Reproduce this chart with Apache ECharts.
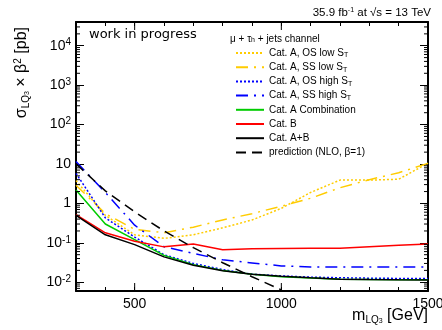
<!DOCTYPE html>
<html><head><meta charset="utf-8">
<script src="https://cdn.jsdelivr.net/npm/echarts@6/dist/echarts.min.js"></script>
<style>html,body{margin:0;padding:0;background:#fff}#c{width:442px;height:330px}</style>
</head><body><div id="c"></div>
<script>
// ---- data ----
const masses = [300,400,500,600,700,800,900,1000,1100,1200,1300,1400,1500];
const catA_OS_low  = [3.8, 0.50, 0.16, 0.13, 0.16, 0.24, 0.38, 0.75, 1.9, 3.9, 3.9, 4.1, 10.5];
const catA_SS_low  = [2.9, 0.55, 0.22, 0.18, 0.25, 0.38, 0.55, 0.85, 1.35, 2.5, 4.0, 6.0, 10.4];
const catA_OS_high = [5.8, 0.43, 0.14, 0.050, 0.030, 0.021, 0.016, 0.0145, 0.0135, 0.013, 0.0127, 0.0125, 0.0124];
const catA_SS_high = [11.5, 1.9, 0.28, 0.080, 0.054, 0.037, 0.031, 0.026, 0.0245, 0.0245, 0.0245, 0.0245, 0.0245];
const catA_comb    = [2.2, 0.30, 0.12, 0.048, 0.028, 0.020, 0.016, 0.0138, 0.0128, 0.012, 0.0118, 0.0116, 0.0115];
const catB         = [0.52, 0.18, 0.11, 0.079, 0.094, 0.067, 0.071, 0.072, 0.073, 0.073, 0.080, 0.087, 0.093];
const catAB        = [0.50, 0.16, 0.09, 0.044, 0.027, 0.0195, 0.016, 0.0143, 0.013, 0.012, 0.0117, 0.0115, 0.0114];
const predMasses   = [300,400,500,600,700,800,900,1000];
const prediction   = [10.1, 2.08, 0.61, 0.20, 0.0757, 0.0313, 0.0138, 0.0064];
const xLabels = [500, 1000, 1500];
const seriesNames = ['Cat. A, OS low S_T','Cat. A, SS low S_T','Cat. A, OS high S_T','Cat. A, SS high S_T','Cat. A Combination','Cat. B','Cat. A+B','prediction (NLO, β=1)'];

const FONT = 'Liberation Sans';
const zip = (xs, ys) => xs.map((x, i) => [x, ys[i]]);

// minor tick positions for the log axis (2..9 x 10^n)
const yMinor = [];
for (let n = -3; n <= 4; n++) for (let k = 2; k <= 9; k++) {
  const v = k * Math.pow(10, n);
  if (v > 0.006 && v < 40000) yMinor.push([300, v]);
}
const xMajor = xLabels.map(m => [m, 1]);

function lineSeries(name, xs, ys, color, type, width) {
  return { name, type: 'line', data: zip(xs, ys), symbol: 'none', clip: true,
    lineStyle: { color, type, width: width || 1.5 }, itemStyle: { color }, z: 3 };
}

const chart = echarts.init(document.getElementById('c'), null, { renderer: 'canvas' });
const axisLine = { show: true, onZero: false, lineStyle: { color: '#000', width: 2 } };
chart.setOption({
  animation: false,
  backgroundColor: '#fff',
  grid: { left: 76, right: 14, top: 22, bottom: 39, containLabel: false, outerBoundsMode: 'none' },
  xAxis: [
    { type: 'value', min: 300, max: 1500, interval: 100, position: 'bottom',
      axisLine, axisTick: { inside: true, length: 4, lineStyle: { color: '#000', width: 1 } },
      axisLabel: { formatter: v => xLabels.includes(v) ? String(v) : '', color: '#000', fontSize: 14, fontFamily: FONT, margin: 6 },
      splitLine: { show: false } },
    { type: 'value', min: 300, max: 1500, interval: 100, position: 'top',
      axisLine, axisTick: { inside: true, length: 4, lineStyle: { color: '#000', width: 1 } },
      axisLabel: { show: false }, splitLine: { show: false } }
  ],
  yAxis: [
    { type: 'log', logBase: 10, min: 0.006, max: 40000, position: 'left',
      axisLine, axisTick: { inside: true, length: 8, lineStyle: { color: '#000', width: 1 } },
      axisLabel: {
        color: '#000', fontSize: 14, fontFamily: FONT, margin: 5, lineHeight: 16,
        formatter: v => {
          const l = Math.log10(v), e = Math.round(l);
          if (Math.abs(l - e) > 1e-6) return '';
          if (e === 0) return '1';
          if (e === 1) return '10';
          return '10{sup|' + e + '}';
        },
        rich: { sup: { fontSize: 10, fontFamily: FONT, color: '#000', verticalAlign: 'top', lineHeight: 10 } }
      },
      splitLine: { show: false } },
    { type: 'log', logBase: 10, min: 0.006, max: 40000, position: 'right',
      axisLine, axisTick: { inside: true, length: 8, lineStyle: { color: '#000', width: 1 } },
      axisLabel: { show: false }, splitLine: { show: false } }
  ],
  legend: {
    data: seriesNames, orient: 'vertical', left: 235, top: 47,
    itemWidth: 28, itemHeight: 12, itemGap: 2.2, padding: 0,
    itemStyle: { color: 'rgba(0,0,0,0)', borderColor: 'rgba(0,0,0,0)', borderWidth: 0, opacity: 0 },
    formatter: name => name.replace('S_T', 'S{sub|T}'),
    textStyle: { color: '#000', fontSize: 10, fontFamily: FONT, lineHeight: 12,
      rich: { sub: { fontSize: 7, fontFamily: FONT, color: '#000', verticalAlign: 'bottom', lineHeight: 7 } } },
    selectedMode: false
  },
  graphic: [
    { type: 'text', x: 89, y: 35, style: { text: 'work in progress', font: '13px "DejaVu Sans"', fill: '#000', verticalAlign: 'middle', align: 'left' } },
    { type: 'text', x: 431, y: 13, style: { text: '35.9 fb{sup|-1} at √s = 13 TeV', font: '11.5px "Liberation Sans"', fill: '#000', align: 'right', verticalAlign: 'middle',
        rich: { sup: { fontSize: 7, fontFamily: FONT, verticalAlign: 'top', lineHeight: 7 } } } },
    { type: 'text', x: 230, y: 39, style: { text: 'μ + τ{sub|h} + jets channel', font: '10px "Liberation Sans"', fill: '#000', align: 'left', verticalAlign: 'middle',
        rich: { sub: { fontSize: 7, fontFamily: FONT, verticalAlign: 'bottom', lineHeight: 7 } } } },
    { type: 'text', x: 428, y: 316, style: { text: 'm{sub|LQ}{sub2|3} [GeV]', font: '16px "Liberation Sans"', fill: '#000', align: 'right', verticalAlign: 'middle', lineHeight: 18,
        rich: { sub: { fontSize: 10, fontFamily: FONT, verticalAlign: 'bottom', lineHeight: 10 }, sub2: { fontSize: 7, fontFamily: FONT, verticalAlign: 'bottom', lineHeight: 4 } } } },
    { type: 'text', x: 22, y: 27, rotation: Math.PI / 2, style: { text: 'σ{sub|LQ}{sub2|3} × β{sup|2} [pb]', font: '16px "Liberation Sans"', fill: '#000', align: 'right', verticalAlign: 'middle', lineHeight: 18,
        rich: { sub: { fontSize: 10, fontFamily: FONT, verticalAlign: 'bottom', lineHeight: 10 }, sub2: { fontSize: 7, fontFamily: FONT, verticalAlign: 'bottom', lineHeight: 4 }, sup: { fontSize: 10, fontFamily: FONT, verticalAlign: 'top', lineHeight: 10 } } } }
  ],
  series: [
    lineSeries(seriesNames[0], masses, catA_OS_low, '#FFCC00', [2, 2]),
    lineSeries(seriesNames[1], masses, catA_SS_low, '#FFCC00', [12, 6, 2, 6]),
    lineSeries(seriesNames[2], masses, catA_OS_high, '#0000FF', [2, 2]),
    lineSeries(seriesNames[3], masses, catA_SS_high, '#0000FF', [12, 6, 2, 6]),
    lineSeries(seriesNames[4], masses, catA_comb, '#00CC00', 'solid'),
    lineSeries(seriesNames[5], masses, catB, '#FF0000', 'solid'),
    lineSeries(seriesNames[6], masses, catAB, '#000000', 'solid'),
    lineSeries(seriesNames[7], predMasses, prediction, '#000000', [10, 6]),
    { type: 'custom', name: 'yMinorTicks', data: yMinor, silent: true, z: 5,
      renderItem: (params, api) => {
        const cs = params.coordSys;
        const y = api.coord([api.value(0), api.value(1)])[1];
        const st = { stroke: '#000', lineWidth: 1 };
        return { type: 'group', children: [
          { type: 'line', shape: { x1: cs.x, y1: y, x2: cs.x + 4, y2: y }, style: st },
          { type: 'line', shape: { x1: cs.x + cs.width, y1: y, x2: cs.x + cs.width - 4, y2: y }, style: st }
        ] };
      } },
    { type: 'custom', name: 'xMajorTicks', data: xMajor, silent: true, z: 5,
      renderItem: (params, api) => {
        const cs = params.coordSys;
        const x = api.coord([api.value(0), api.value(1)])[0];
        const st = { stroke: '#000', lineWidth: 1 };
        return { type: 'group', children: [
          { type: 'line', shape: { x1: x, y1: cs.y + cs.height, x2: x, y2: cs.y + cs.height - 8 }, style: st },
          { type: 'line', shape: { x1: x, y1: cs.y, x2: x, y2: cs.y + 8 }, style: st }
        ] };
      } }
  ]
});
</script></body></html>
